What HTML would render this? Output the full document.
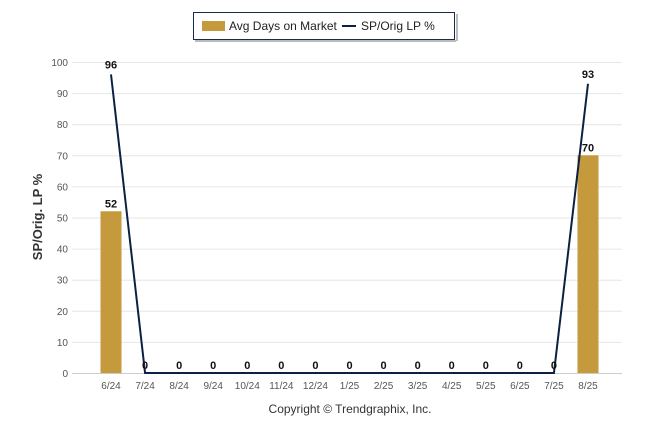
<!DOCTYPE html>
<html><head><meta charset="utf-8"><style>
body{margin:0;background:#fff;font-family:"Liberation Sans",sans-serif}
</style></head><body>
<svg id="c" width="646" height="434" xmlns="http://www.w3.org/2000/svg" font-family="Liberation Sans, sans-serif">
<g>
<rect x="193.5" y="12.5" width="261" height="27" fill="#fff" stroke="#1a2a4a" stroke-width="1"/>
<rect x="456" y="14" width="2" height="27" fill="#bbb"/>
<rect x="195" y="40" width="261" height="2" fill="#bbb"/>
<rect x="202" y="21" width="23" height="10" fill="#c49a3c"/>
<text x="229" y="30" font-size="12" fill="#222">Avg Days on Market</text>
<line x1="342" y1="26" x2="356" y2="26" stroke="#0b2143" stroke-width="2"/>
<text x="361" y="30" font-size="12" fill="#222">SP/Orig LP %</text>
</g>
<text transform="translate(42,217) rotate(-90)" text-anchor="middle" font-size="13" font-weight="bold" fill="#333">SP/Orig. LP %</text>
<text x="350" y="413" text-anchor="middle" font-size="12" fill="#333">Copyright © Trendgraphix, Inc.</text>
<g id="grid"></g><g id="bars"></g><g id="line"></g><g id="labels"></g>
</svg>
<script>
const categories=["6/24","7/24","8/24","9/24","10/24","11/24","12/24","1/25","2/25","3/25","4/25","5/25","6/25","7/25","8/25"];
const daysOnMarket=[52,0,0,0,0,0,0,0,0,0,0,0,0,0,70];
const spOrigLP=[96,0,0,0,0,0,0,0,0,0,0,0,0,0,93];
const yTicks=[0,10,20,30,40,50,60,70,80,90,100];
const NS="http://www.w3.org/2000/svg";
const x=i=>111+i*(588-111)/14;
const y=v=>373-v*3.11;
function mk(t,a,p){const e=document.createElementNS(NS,t);for(const k in a)e.setAttribute(k,a[k]);document.getElementById(p).appendChild(e);return e;}
yTicks.forEach(v=>{
 const l=mk('line',{x1:72,x2:622,y1:y(v)+0.5,y2:y(v)+0.5,stroke:v?'#e6e6e6':'#ccc'},'grid');
 
 
 const t=mk('text',{x:68,y:y(v)+4,'text-anchor':'end','font-size':10,fill:'#555'},'grid');
 t.textContent=v;
 
 
});
categories.forEach((c,i)=>{
 const t=mk('text',{x:x(i),y:389,'text-anchor':'middle','font-size':10,fill:'#555'},'grid');
 t.textContent=c;
 
 
 const v=daysOnMarket[i];
 if(v>0){
  const b=mk('rect',{x:x(i)-10.5,y:y(v),width:21,height:y(0)-y(v),fill:'#c49a3c'},'bars');
  
  
  const bl=mk('text',{x:x(i),y:y(v)-4,'text-anchor':'middle','font-size':11,'font-weight':'bold',fill:'#111'},'labels');
  bl.textContent=v;
  
  
 }
 const p=spOrigLP[i];
 const ll=mk('text',{x:x(i),y:y(p)-(p>0?6:4),'text-anchor':'middle','font-size':11,'font-weight':'bold',fill:'#111'},'labels');
 ll.textContent=p;
 
 
});
const pl=mk('polyline',{points:spOrigLP.map((v,i)=>x(i)+','+y(v)).join(' '),fill:'none',stroke:'#0b2143','stroke-width':2},'line');


</script>
</body></html>
